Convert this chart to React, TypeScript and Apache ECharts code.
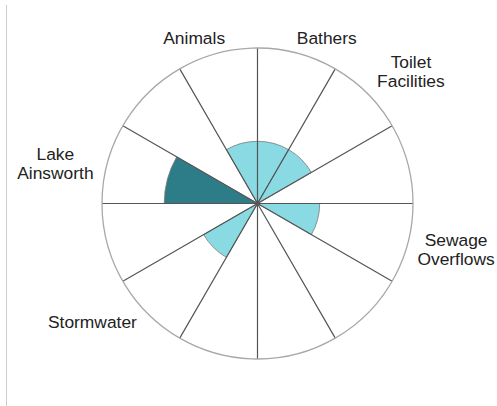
import React, { useEffect, useRef } from "react";
import * as echarts from "echarts";

// 12 sectors, clockwise from 12 o'clock
const categories = [
  "Bathers",
  "Toilet Facilities",
  "",
  "Sewage Overflows",
  "",
  "",
  "",
  "Stormwater",
  "",
  "Lake Ainsworth",
  "",
  "Animals",
];
const values = [2, 2, 0, 2, 0, 0, 0, 2, 0, 3, 0, 2];
const radiusMax = 5;

const LIGHT = "#89DAE3";
const DARK = "#2D7D89";

// per-label nudges (padding) to match the reference label placement
const labelPadding: Record<string, number[]> = {
  Bathers: [0, 0, -2, 54],
  Animals: [0, 42, -2, 0],
  "Toilet Facilities": [0, 0, -3, 4],
  "Sewage Overflows": [8, 0, 0, 2],
  "Lake Ainsworth": [4, 6, 0, 0],
  Stormwater: [-7, 5, 0, 0],
};

export default function App() {
  const ref = useRef<HTMLDivElement>(null);
  useEffect(() => {
    if (!ref.current) return;
    const chart = echarts.init(ref.current, undefined, { renderer: "svg" });
    const font = "'Liberation Sans', Arial, sans-serif";
    const fs = 17.4;
    chart.setOption({
      animation: false,
      backgroundColor: "#ffffff",
      polar: { center: [257.5, 203.5], radius: 155.5 },
      angleAxis: {
        type: "category",
        startAngle: 90,
        clockwise: true,
        z: 5,
        data: categories.map((c) =>
          labelPadding[c] ? { value: c, textStyle: { padding: labelPadding[c] } } : c
        ),
        axisLine: { show: true, lineStyle: { color: "#a8a8a8", width: 1.3 } },
        axisTick: { show: false },
        splitLine: { show: true, interval: 0, lineStyle: { color: "#555555", width: 1.2 } },
        axisLabel: {
          interval: 0,
          margin: 8,
          color: "#222222",
          fontSize: fs,
          fontFamily: font,
          lineHeight: 19,
          formatter: (v: string) =>
            v ? v.split(" ").map((w) => `{c|${w}}`).join("\n") : "",
          rich: { c: { align: "center", fontSize: fs, lineHeight: 19, fontFamily: font, color: "#222222" } },
        },
      },
      radiusAxis: {
        type: "value",
        min: 0,
        max: radiusMax,
        axisLine: { show: false },
        axisTick: { show: false },
        axisLabel: { show: false },
        splitLine: { show: false },
      },
      series: [
        {
          type: "bar",
          coordinateSystem: "polar",
          barCategoryGap: "0%",
          data: values.map((v) => ({
            value: v,
            itemStyle: {
              color: v > 2 ? DARK : LIGHT,
              borderColor: "#7a7a7a",
              borderWidth: v > 0 ? 0.8 : 0,
            },
          })),
        },
      ],
      graphic: [
        {
          type: "line",
          shape: { x1: 6.5, y1: 5, x2: 6.5, y2: 406 },
          style: { stroke: "#cccccc", lineWidth: 1 },
        },
      ],
    });
    return () => chart.dispose();
  }, []);
  return (
    <div
      ref={ref}
      style={{ position: "absolute", left: 0, top: 0, width: 497, height: 406 }}
    />
  );
}
